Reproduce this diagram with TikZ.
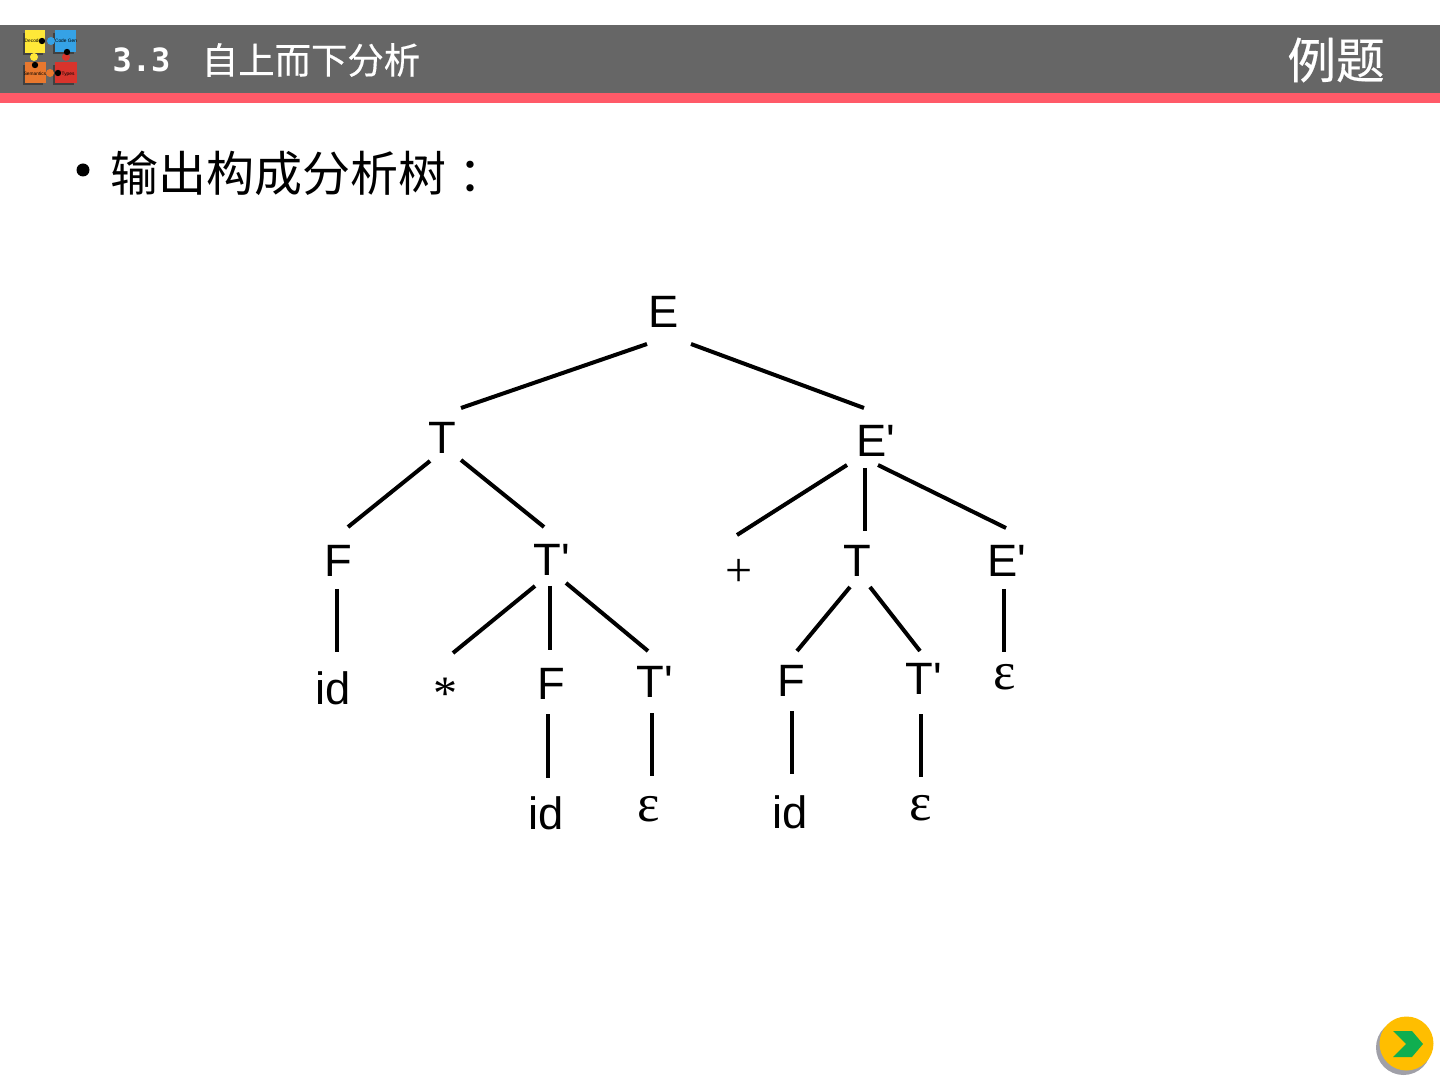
\documentclass[tikz,border=0pt]{standalone}
\usepackage{fontspec}
\newfontfamily\lsans{Liberation Sans}
\newfontfamily\cjk{Noto Sans CJK SC}
\newfontfamily\cjkmed[FakeBold=0.35]{Noto Sans CJK SC}
\newfontfamily\cjktc{Noto Sans CJK TC}
\newfontfamily\tnr{Liberation Serif}
\newfontfamily\monoz{DejaVu Sans Mono Bold}
\definecolor{headgrey}{HTML}{666666}
\definecolor{headred}{HTML}{FF5A68}
\definecolor{pzy}{HTML}{FFE838}
\definecolor{pzb}{HTML}{35A2E6}
\definecolor{pzo}{HTML}{E8782E}
\definecolor{pzr}{HTML}{D8342C}
\definecolor{btngold}{HTML}{FFBE00}
\definecolor{btngreen}{HTML}{0FAE50}
\definecolor{btnshadow}{HTML}{A0A0A8}
\newcommand{\conn}[4]{\draw[treeline] ([shift={(#2)}]#1.center) -- ([shift={(#4)}]#3.center);}
\tikzset{
  lab/.style={inner sep=0pt,font=\lsans\fontsize{34}{34}\selectfont,anchor=center},
  sym/.style={inner sep=0pt,font=\tnr\fontsize{36}{36}\selectfont,anchor=center},
  eps/.style={inner sep=0pt,font=\tnr\fontsize{40}{40}\selectfont,anchor=center},
  tiny/.style={inner sep=0pt,font=\lsans\fontsize{3.6}{4}\selectfont,text=black,anchor=center},
  treeline/.style={line width=3pt,black},
}
\begin{document}
\begin{tikzpicture}[x=0.75pt,y=-0.75pt]
\useasboundingbox (0,0) rectangle (1440,1080);
\fill[white] (0,0) rectangle (1440,1080);
% header
\fill[headgrey] (0,25) rectangle (1440,93);
\fill[headred] (0,93) rectangle (1440,103);
% logo
\fill[black!75] (22.5,33) rectangle (43,55.5);
\fill[black!75] (52.5,33) rectangle (74,54.5);
\fill[black!75] (22.5,65) rectangle (43,85.5);
\fill[black!75] (52.5,65) rectangle (74,85.5);
\fill[pzy] (25,30) rectangle (45,53);
\fill[pzb] (55,30) rectangle (76,52);
\fill[pzo] (25,62) rectangle (46,83);
\fill[pzr] (55,62) rectangle (77,83);
\fill[pzy] (34,57) circle (4);
\fill[pzb] (51,41) circle (4);
\fill[pzo] (50,73) circle (4);
\fill[pzr] (66,57) circle (4);
\fill[black] (42,41) circle (3.2);
\fill[black] (67,52) circle (3.2);
\fill[black] (35,65) circle (3.2);
\fill[black] (58,73) circle (3.2);
\node[tiny] (lga) at (33,41) {Decode};
\node[tiny] (lgb) at (66,41) {Code Gen};
\node[tiny] (lgc) at (35,74) {Semantics};
\node[tiny] (lgd) at (68,74) {Types};
% titles
\node[inner sep=0pt,text=white,font=\monoz\fontsize{24}{24}\selectfont,anchor=center] (num) at (141.5,60) {3.3};
\node[inner sep=0pt,text=white,font=\cjkmed\fontsize{27.3}{27}\selectfont,anchor=center] (ttl) at (311,60) {自上而下分析};
\node[inner sep=0pt,text=white,font=\cjkmed\fontsize{36.5}{37}\selectfont,anchor=center] (exm) at (1336,60) {例题};
% bullet
\fill[black] (83,170) circle (6.5);
\node[inner sep=0pt,font=\cjk\fontsize{36}{36}\selectfont,anchor=west] (head) at (110,173) {输出构成分析树\raisebox{-2.5pt}{\cjktc ：}};
% tree nodes
\node[lab] (E) at (664,312) {E};
\node[lab] (T1) at (442,438) {T};
\node[lab] (Ep1) at (876,441) {E'};
\node[lab] (F1) at (338,561) {F};
\node[lab] (Tp1) at (552,560) {T'};
\node[sym] (plus) at (739,573) {+};
\node[lab] (T2) at (857,561) {T};
\node[lab] (Ep2) at (1007,561) {E'};
\node[lab] (id1) at (333,688) {id};
\node[sym] (star) at (445,694) {*};
\node[lab] (F2) at (551,684) {F};
\node[lab] (Tp2) at (655,682) {T'};
\node[lab] (F3) at (791,681) {F};
\node[lab] (Tp3) at (924,679) {T'};
\node[eps] (e3) at (1005,677) {ε};
\node[lab] (id2) at (546,813) {id};
\node[eps] (e1) at (649,809) {ε};
\node[lab] (id3) at (790,812) {id};
\node[eps] (e2) at (921,808) {ε};
% connectors
\conn{E}{-17,32}{T1}{19,-30}
\conn{E}{27,32}{Ep1}{-12,-33}
\conn{T1}{-12,23}{F1}{10,-34}
\conn{T1}{19,22}{Tp1}{-8,-33}
\conn{Ep1}{-29,24}{plus}{-2,-38}
\conn{Ep1}{-11,27}{T2}{8,-30}
\conn{Ep1}{2,24}{Ep2}{-1,-33}
\conn{F1}{-1,28}{id1}{4,-36}
\conn{Tp1}{-17,26}{star}{8,-41}
\conn{Tp1}{-2,26}{F2}{-1,-34}
\conn{Tp1}{14,23}{Tp2}{-7,-31}
\conn{T2}{-7,26}{F3}{6,-30}
\conn{T2}{13,26}{Tp3}{-4,-28}
\conn{Ep2}{-3,28}{e3}{-1,-25}
\conn{F2}{-3,30}{id2}{2,-35}
\conn{Tp2}{-3,31}{e1}{3,-33}
\conn{F3}{1,30}{id3}{2,-38}
\conn{Tp3}{-3,35}{e2}{0,-31}
% button
\fill[btnshadow] (1403.5,1047.5) circle (27.5);
\fill[btngold] (1406.5,1043.5) circle (27);
\fill[btngreen] (1393,1031) -- (1412,1031) -- (1423,1044) -- (1412,1057) -- (1393,1057) -- (1406,1044) -- cycle;
\end{tikzpicture}
\end{document}
